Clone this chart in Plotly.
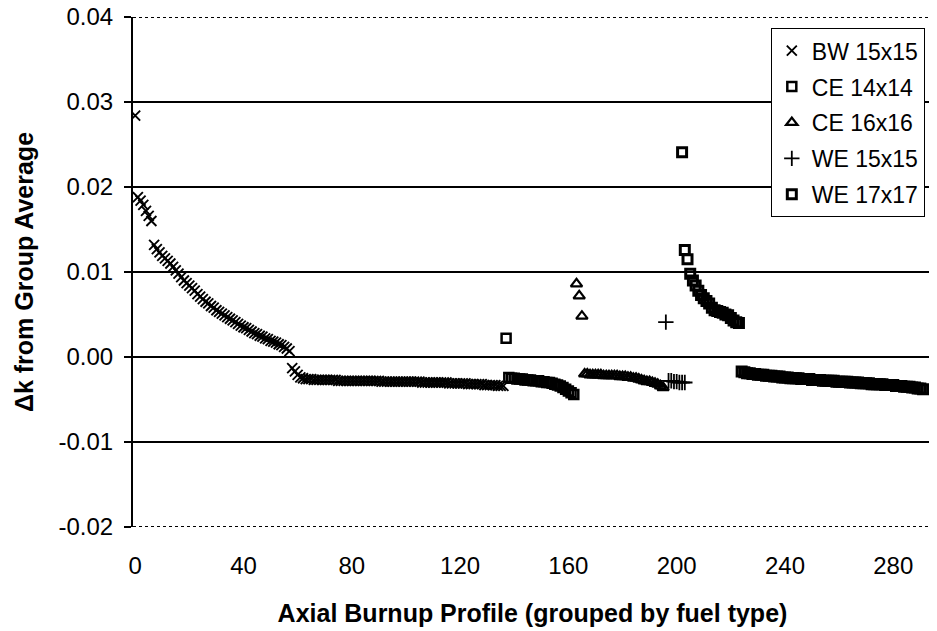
import plotly.graph_objects as go

# ---------------- data ----------------
series_names = ["BW 15x15", "CE 14x14", "CE 16x16", "WE 15x15", "WE 17x17"]
series_start = [0, 137, 163, 196, 202]   # first profile index of each group

bw_15x15 = [
    0.0284, 0.0188, 0.0184, 0.0179, 0.0172, 0.0166, 0.0160, 0.0132, 0.0127, 0.0123,
    0.0119, 0.0116, 0.0113, 0.0110, 0.0106, 0.0102, 0.0098, 0.0094, 0.0090, 0.0087,
    0.0084, 0.0081, 0.0078, 0.0074, 0.0071, 0.0068, 0.0065, 0.0063, 0.0060, 0.0058,
    0.0055, 0.0053, 0.0051, 0.0049, 0.0047, 0.0045, 0.0043, 0.0041, 0.0039, 0.0037,
    0.0035, 0.0034, 0.0032, 0.0030, 0.0028, 0.0027, 0.0025, 0.0024, 0.0022, 0.0021,
    0.0019, 0.0018, 0.0017, 0.0015, 0.0014, 0.0012, 0.0010, 0.0007, -0.0013, -0.0017,
    -0.0021, -0.0024, -0.0025, -0.0026, -0.0026, -0.0026, -0.0027, -0.0027, -0.0027, -0.0027,
    -0.0027, -0.0027, -0.0027, -0.0027, -0.0027, -0.0028, -0.0028, -0.0028, -0.0028, -0.0028,
    -0.0028, -0.0028, -0.0028, -0.0028, -0.0028, -0.0028, -0.0028, -0.0028, -0.0028, -0.0028,
    -0.0028, -0.0029, -0.0029, -0.0029, -0.0029, -0.0029, -0.0029, -0.0029, -0.0029, -0.0029,
    -0.0029, -0.0029, -0.0029, -0.0029, -0.0029, -0.0029, -0.0030, -0.0030, -0.0030, -0.0030,
    -0.0030, -0.0030, -0.0030, -0.0030, -0.0030, -0.0030, -0.0031, -0.0031, -0.0031, -0.0031,
    -0.0031, -0.0031, -0.0031, -0.0032, -0.0032, -0.0032, -0.0032, -0.0032, -0.0032, -0.0033,
    -0.0033, -0.0033, -0.0033, -0.0033, -0.0034, -0.0034, -0.0034,
]

ce_14x14 = [
    0.0022, -0.0024, -0.0025, -0.0025, -0.0026, -0.0026, -0.0026, -0.0027, -0.0027, -0.0027,
    -0.0028, -0.0028, -0.0028, -0.0029, -0.0029, -0.0030, -0.0030, -0.0031, -0.0032, -0.0033,
    -0.0034, -0.0036, -0.0038, -0.0040, -0.0042, -0.0044,
]

ce_16x16 = [
    0.0086, 0.0072, 0.0048, -0.0020, -0.0020, -0.0021, -0.0021, -0.0021, -0.0021, -0.0021,
    -0.0022, -0.0022, -0.0022, -0.0022, -0.0022, -0.0022, -0.0023, -0.0023, -0.0023, -0.0024,
    -0.0024, -0.0025, -0.0025, -0.0026, -0.0027, -0.0028, -0.0029, -0.0029, -0.0030, -0.0031,
    -0.0032, -0.0034, -0.0036,
]

we_15x15 = [0.0041, -0.0028, -0.0028, -0.0029, -0.0029, -0.0030, -0.0030, -0.0030]

we_17x17 = [
    0.0241, 0.0126, 0.0115, 0.0098, 0.0090, 0.0084, 0.0078, 0.0073, 0.0069, 0.0066,
    0.0063, 0.0058, 0.0055, 0.0054, 0.0053, 0.0052, 0.0050, 0.0049, 0.0046, 0.0043,
    0.0041, 0.0040,
    -0.0017, -0.0018, -0.0019, -0.0019, -0.0020, -0.0020, -0.0021, -0.0021, -0.0021, -0.0022,
    -0.0022, -0.0022, -0.0023, -0.0023, -0.0023, -0.0024, -0.0024, -0.0024, -0.0025, -0.0025,
    -0.0025, -0.0025, -0.0026, -0.0026, -0.0026, -0.0026, -0.0027, -0.0027, -0.0027, -0.0027,
    -0.0028, -0.0028, -0.0028, -0.0028, -0.0028, -0.0029, -0.0029, -0.0029, -0.0029, -0.0029,
    -0.0030, -0.0030, -0.0030, -0.0030, -0.0031, -0.0031, -0.0031, -0.0031, -0.0032, -0.0032,
    -0.0032, -0.0032, -0.0032, -0.0033, -0.0033, -0.0033, -0.0033, -0.0034, -0.0034, -0.0034,
    -0.0035, -0.0035, -0.0035, -0.0036, -0.0036, -0.0037, -0.0037, -0.0038,
]

series_values = [bw_15x15, ce_14x14, ce_16x16, we_15x15, we_17x17]

x_ticks = [0, 40, 80, 120, 160, 200, 240, 280]
y_ticks = [-0.02, -0.01, 0.00, 0.01, 0.02, 0.03, 0.04]
y_tick_text = ["-0.02", "-0.01", "0.00", "0.01", "0.02", "0.03", "0.04"]
y_solid_grid = [-0.01, 0.00, 0.01, 0.02, 0.03]
y_dotted_grid = [-0.02, 0.04]

x_title = "Axial Burnup Profile (grouped by fuel type)"
y_title = "Δk from Group Average"

# ---------------- styles ----------------
marker_styles = [
    dict(symbol="x-thin", size=10, color="black", line=dict(color="black", width=1.9)),
    dict(symbol="square-open", size=9, color="black", line=dict(color="black", width=2.5)),
    dict(symbol="triangle-up-open", size=10, color="black", line=dict(color="black", width=2.2)),
    dict(symbol="cross-thin", size=11, color="black", line=dict(color="black", width=1.8)),
    dict(symbol="square-open", size=9, color="black", line=dict(color="black", width=3)),
]

FONT = "Liberation Sans, Arial, sans-serif"
TICK_SIZE = 24
LEGEND_SIZE = 23
TITLE_SIZE = 25

fig = go.Figure()
for name, start, vals, mk in zip(series_names, series_start, series_values, marker_styles):
    xs = [start + i for i in range(len(vals))]
    fig.add_trace(go.Scatter(x=xs, y=vals, mode="markers", name=name,
                             legendgroup=name, marker=mk))

shapes = []
for yv in y_solid_grid:
    shapes.append(dict(type="line", xref="paper", yref="y", x0=0, x1=1, y0=yv, y1=yv,
                       line=dict(color="black", width=2), layer="below"))
for yv in y_dotted_grid:
    shapes.append(dict(type="line", xref="paper", yref="y", x0=0, x1=1, y0=yv, y1=yv,
                       line=dict(color="black", width=2, dash="dot"), layer="below"))

# the page adds an 8px body margin, so the figure is 8px smaller and offset
fig.update_layout(
    width=929, height=623,
    margin=dict(l=125, r=5, t=9, b=104, autoexpand=False),
    paper_bgcolor="white", plot_bgcolor="white",
    font=dict(family=FONT, color="black", size=TICK_SIZE),
    shapes=shapes,
    showlegend=True,
    legend=dict(x=0.991, xanchor="right", y=0.978, yanchor="top",
                bgcolor="white", bordercolor="black", borderwidth=1,
                font=dict(size=LEGEND_SIZE), tracegroupgap=3),
    xaxis=dict(range=[-0.8, 294.3], tickvals=x_ticks, showgrid=False, zeroline=False,
               showline=False, ticks="outside", ticklen=17, tickcolor="rgba(0,0,0,0)",
               tickfont=dict(size=TICK_SIZE), automargin=False, ticklabeloverflow="allow",
               title=dict(text="<b>" + x_title + "</b>", font=dict(size=TITLE_SIZE), standoff=26)),
    yaxis=dict(range=[-0.02, 0.04], tickvals=y_ticks, ticktext=y_tick_text,
               showgrid=False, zeroline=False, showline=True, linecolor="black", linewidth=2,
               ticks="outside", ticklen=7, tickwidth=2, tickcolor="black",
               ticklabelstandoff=6, ticklabeloverflow="allow",
               tickfont=dict(size=TICK_SIZE), automargin=False,
               title=dict(text="<b>" + y_title + "</b>", font=dict(size=TITLE_SIZE), standoff=18)),
)

fig.write_html("out.html")
